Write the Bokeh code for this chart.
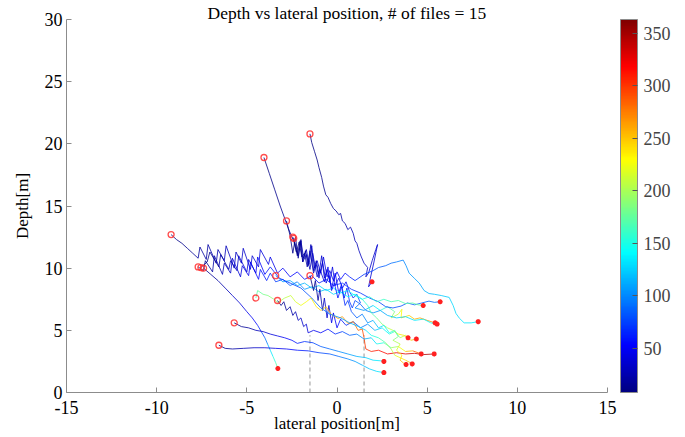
import numpy as np
from bokeh.plotting import figure
from bokeh.models import ColumnDataSource, LinearColorMapper, ColorBar, FixedTicker, Range1d
from bokeh.transform import transform
from bokeh.embed import file_html
from bokeh.resources import INLINE

TITLE = "Depth vs lateral position, # of files = 15"
X_LABEL = "lateral position[m]"
Y_LABEL = "Depth[m]"
X_TICKS = [-15, -10, -5, 0, 5, 10, 15]
Y_TICKS = [0, 5, 10, 15, 20, 25, 30]
CB_TICKS = [50, 100, 150, 200, 250, 300, 350]
T_MIN, T_MAX = 8, 363
DASH_X = [-1.5, 1.5]
DASH_TOP = [4.6, 4.6]

A_X = [-1.5, -1.4, -1.25, -1.1, -1.0, -0.85, -0.75, -0.62, -0.5, -0.35, -0.2, -0.05, 0.1, 0.2, 0.3, 0.45, 0.6, 0.75, 0.9, 1.0, 1.1, 1.22, 1.35, 1.5, 1.7, 1.6, 1.75, 1.95, 2.15, 2.25, 2.05, 1.85, 1.75, 1.94]
A_Y = [20.8, 20.1, 19.4, 18.7, 18.1, 17.3, 16.6, 15.9, 15.7, 15.2, 14.8, 14.6, 14.3, 14.4, 13.8, 13.6, 13.1, 13.3, 12.8, 12.2, 12.0, 11.4, 10.9, 10.4, 10.05, 9.3, 9.6, 10.6, 11.5, 11.9, 10.5, 9.2, 8.5, 8.9]
A_T = [8, 9, 10, 11, 12, 13, 14, 15, 16, 17, 18, 19, 20, 21, 22, 23, 24, 25, 26, 27, 28, 29, 30, 31, 32, 33, 34, 35, 36, 37, 38, 39, 40, 41]

B_X = [-4.05, -3.75, -3.45, -3.15, -2.9, -2.7, -2.5, -2.3, -2.15, -2.0, -1.85, -1.7, -1.55, -1.4, -1.25, -1.1, -0.9, -0.75, -0.55, -0.4, -0.2, 0.0, 0.2, 0.45, 0.7, 1.0, 1.5, 2.0, 2.3, 2.7, 3.0, 3.3, 3.67, 3.83, 4.0, 4.28, 4.56, 4.83, 5.1, 5.4, 5.78, 6.22, 6.44, 6.6, 6.8, 7.05, 7.44, 7.83]
B_Y = [18.9, 17.6, 16.3, 15.0, 14.0, 13.2, 12.5, 11.9, 11.0, 12.2, 10.8, 11.5, 10.3, 11.8, 10.0, 10.6, 9.6, 10.9, 9.3, 9.8, 9.0, 9.7, 9.1, 9.6, 9.3, 9.0, 9.5, 9.8, 10.05, 10.2, 10.4, 10.5, 10.65, 10.2, 9.6, 9.2, 8.8, 8.2, 7.96, 7.9, 7.8, 7.65, 7.0, 6.35, 5.95, 5.6, 5.6, 5.7]
B_T = [8, 10, 12, 14, 16, 18, 20, 22, 24, 26, 28, 30, 32, 34, 36, 38, 40, 42, 44, 46, 48, 50, 53, 56, 60, 65, 72, 78, 82, 86, 90, 94, 98, 101, 104, 107, 110, 113, 116, 119, 122, 125, 127, 129, 131, 133, 135, 137]

C_X = [-2.8, -2.6, -2.45, -2.3, -2.15, -2.0, -1.9, -1.75, -1.6, -1.45, -1.3, -1.15, -1.0, -0.85, -0.7, -0.55, -0.4, -0.25, -0.1, 0.1, 0.3, 0.5, 0.7, 0.9, 1.1, 1.3, 1.0, 1.5, 2.0, 2.4, 2.8, 3.2, 3.0, 3.4, 3.6, 3.55, 4.0, 4.3, 4.6, 5.0, 5.44]
C_Y = [13.8, 12.6, 11.2, 12.5, 10.8, 12.3, 10.5, 11.4, 10.2, 11.9, 9.8, 10.6, 9.5, 11.0, 9.2, 9.9, 8.9, 10.1, 8.6, 9.2, 8.4, 8.9, 8.1, 7.6, 7.9, 7.2, 6.8, 6.6, 7.0, 6.6, 6.9, 6.5, 6.0, 6.3, 6.7, 6.0, 6.2, 5.9, 6.0, 5.8, 5.6]
C_T = [8, 10, 12, 14, 16, 18, 20, 22, 24, 26, 28, 30, 32, 34, 36, 38, 40, 42, 44, 47, 50, 54, 58, 64, 72, 82, 95, 110, 128, 146, 164, 182, 198, 212, 224, 236, 246, 254, 262, 268, 274]

D_X = [-2.4, -2.25, -2.1, -1.95, -1.8, -1.65, -1.5, -1.3, -1.15, -1.0, -0.8, -0.6, -0.45, -0.3, -0.1, 0.1, 0.25, 0.4, 0.55, 0.7, 0.85, 1.0, 1.3, 1.6, 2.0, 2.4, 2.8, 3.3, 3.8, 4.3, 4.8, 5.2, 5.55]
D_Y = [12.4, 11.3, 12.1, 10.9, 11.2, 10.1, 11.4, 9.6, 10.3, 9.2, 10.5, 8.8, 9.4, 8.4, 9.6, 8.0, 8.7, 7.6, 8.4, 7.3, 6.8, 7.4, 7.1, 6.6, 6.4, 6.6, 6.2, 6.0, 6.1, 5.8, 5.9, 5.6, 5.5]
D_T = [8, 11, 14, 17, 20, 23, 26, 29, 32, 35, 38, 41, 44, 47, 50, 53, 56, 60, 64, 68, 72, 78, 85, 92, 100, 108, 115, 122, 128, 133, 137, 140, 143]

E_X = [-9.2, -8.9, -8.6, -8.3, -8.0, -7.7, -7.6, -7.25, -7.15, -6.7, -6.6, -6.25, -6.15, -5.7, -5.6, -5.3, -5.2, -4.8, -4.7, -4.35, -4.25, -3.8, -3.7, -3.3, -3.0, -2.6, -2.2, -1.8, -1.4, -1.0, -0.6, -0.2, 0.3, 0.8, 1.3, 1.8, 2.3, 2.7, 3.1, 3.55, 3.9, 4.3, 4.7, 5.1, 5.4, 5.72]
E_Y = [12.7, 12.3, 12.0, 11.6, 11.2, 10.8, 11.7, 10.7, 11.9, 10.4, 11.5, 10.6, 11.8, 10.0, 11.3, 10.4, 11.6, 9.9, 11.0, 10.1, 11.5, 10.3, 10.9, 9.6, 10.0, 9.3, 9.7, 9.1, 9.4, 8.8, 9.1, 8.6, 8.8, 8.3, 8.0, 7.6, 7.3, 6.9, 6.8, 6.95, 7.2, 7.05, 7.2, 7.35, 7.25, 7.3]
E_T = [8, 10, 12, 14, 16, 18, 19, 21, 22, 24, 25, 27, 28, 30, 31, 33, 34, 36, 37, 39, 40, 42, 43, 46, 49, 52, 54, 56, 58, 60, 62, 64, 66, 68, 70, 72, 74, 76, 78, 80, 82, 84, 86, 88, 90, 92]

F_X = [-7.7, -7.4, -7.3, -6.9, -6.8, -6.35, -6.25, -5.9, -5.8, -5.35, -5.25, -4.9, -4.8, -4.35, -4.25, -3.9, -3.7, -3.4, -3.0, -2.6, -2.2, -1.8, -1.4, -1.0, -0.6, -0.2, 0.2, 0.6, 1.0, 1.4, 1.8, 2.2, 2.6, 3.0, 3.4, 3.8, 4.2, 4.5, 4.78]
F_Y = [10.1, 9.8, 10.6, 9.7, 11.0, 9.5, 10.4, 9.6, 10.8, 9.3, 10.2, 9.4, 10.5, 9.1, 9.9, 9.0, 9.6, 8.9, 9.1, 8.6, 8.9, 8.3, 8.5, 8.1, 8.3, 7.9, 8.1, 7.7, 7.9, 7.5, 7.7, 7.3, 7.5, 7.3, 7.4, 7.15, 7.2, 7.05, 7.0]
F_T = [8, 12, 15, 19, 22, 26, 29, 33, 36, 40, 43, 47, 50, 54, 57, 62, 66, 72, 80, 88, 96, 104, 110, 116, 122, 128, 133, 138, 143, 148, 153, 158, 162, 166, 169, 172, 174, 176, 178]

G_X = [-7.4, -7.0, -6.6, -6.2, -5.8, -5.4, -5.0, -4.7, -4.4, -4.2, -4.0, -3.85, -3.7, -3.55, -3.4, -3.28]
G_Y = [10.0, 9.5, 9.0, 8.4, 7.8, 7.2, 6.5, 6.0, 5.4, 4.9, 4.4, 3.9, 3.4, 2.9, 2.4, 1.93]
G_T = [8, 14, 20, 26, 32, 38, 44, 50, 58, 70, 86, 104, 124, 144, 164, 182]

H_X = [-3.4, -3.0, -2.6, -2.2, -1.8, -1.4, -1.0, -0.6, -0.2, 0.2, 0.6, 1.0, 1.4, 1.7, 1.9, 2.2, 2.5, 2.8, 3.1, 3.4, 3.7, 3.94]
H_Y = [9.4, 8.9, 9.0, 8.6, 8.8, 8.4, 8.6, 8.2, 8.4, 8.0, 8.2, 7.8, 7.5, 7.0, 6.4, 6.0, 5.5, 5.2, 5.0, 4.7, 4.6, 4.4]
H_T = [100, 104, 108, 112, 116, 120, 124, 128, 132, 136, 140, 146, 152, 158, 166, 176, 188, 200, 214, 230, 246, 258]

I_X = [-1.5, -1.3, -1.2, -1.05, -0.95, -0.8, -0.7, -0.55, -0.45, -0.3, -0.2, 0.0, 0.2, 0.5, 0.9, 1.3, 1.7, 2.1, 2.5, 2.9, 3.2, 3.5, 3.8, 4.1, 4.4]
I_Y = [9.4, 8.2, 9.0, 7.4, 8.3, 6.6, 7.6, 6.0, 7.0, 5.6, 6.4, 5.2, 5.9, 5.4, 5.7, 5.2, 5.5, 5.0, 5.2, 4.7, 4.9, 4.4, 4.6, 4.2, 4.3]
I_T = [8, 12, 16, 20, 24, 28, 32, 36, 40, 44, 48, 52, 58, 66, 76, 88, 100, 115, 130, 150, 170, 195, 220, 245, 262]

J_X = [-4.5, -4.4, -4.1, -3.83, -3.5, -3.28, -2.9, -2.56, -2.3, -2.0, -1.7, -1.44, -1.15, -0.89, -0.6, -0.33, 0.06, 0.3, 0.61, 0.9, 1.17, 1.4, 1.5, 1.55, 1.6, 1.9, 2.3, 2.8, 3.3, 3.8, 4.3, 4.8, 5.39]
J_Y = [7.6, 8.2, 7.9, 7.8, 7.5, 7.24, 7.6, 7.8, 7.3, 7.0, 7.3, 7.6, 6.9, 6.6, 6.9, 6.3, 5.95, 6.1, 5.55, 5.7, 5.0, 5.1, 4.4, 3.9, 3.5, 3.3, 3.4, 3.1, 3.2, 3.1, 3.15, 3.05, 3.1]
J_T = [170, 174, 180, 186, 192, 198, 204, 210, 216, 222, 228, 232, 238, 244, 250, 256, 262, 266, 270, 276, 282, 288, 294, 298, 302, 306, 312, 318, 324, 330, 336, 342, 348]

K_X = [-3.3, -3.1, -2.95, -2.8, -2.6, -2.45, -2.3, -2.15, -2.0, -1.85, -1.7, -1.6, -1.3, -0.9, -0.5, -0.1, 0.3, 0.7, 1.1, 1.5, 1.9, 2.2, 2.6, 3.0, 3.4, 3.8, 4.2, 4.67]
K_Y = [7.4, 7.0, 7.3, 6.6, 6.9, 6.2, 6.5, 5.8, 6.0, 5.3, 5.5, 4.8, 5.0, 4.8, 5.1, 4.7, 4.9, 4.6, 4.7, 4.3, 4.4, 3.9, 4.0, 3.6, 3.7, 3.3, 3.35, 3.1]
K_T = [8, 11, 14, 17, 20, 23, 26, 29, 32, 35, 38, 41, 46, 52, 58, 66, 74, 84, 95, 108, 122, 140, 160, 185, 210, 240, 270, 300]

L_X = [-5.7, -5.3, -4.9, -4.5, -4.1, -3.7, -3.3, -2.9, -2.5, -2.2, -1.8, -1.33, -0.9, -0.4, 0.1, 0.6, 1.1, 1.6, 2.0, 2.4, 2.6]
L_Y = [5.6, 5.3, 5.2, 5.0, 4.9, 4.7, 4.55, 4.4, 4.2, 3.95, 4.1, 4.0, 3.7, 3.5, 3.3, 3.1, 2.9, 2.8, 2.6, 2.55, 2.5]
L_T = [8, 14, 20, 26, 32, 38, 44, 50, 56, 62, 68, 74, 82, 90, 98, 106, 114, 122, 130, 136, 140]

M_X = [-6.55, -6.2, -5.8, -5.2, -4.6, -4.0, -3.4, -2.8, -2.2, -1.6, -1.0, -0.4, 0.1, 0.6, 1.0, 1.4, 1.8, 2.2, 2.6]
M_Y = [3.8, 3.55, 3.5, 3.55, 3.6, 3.6, 3.55, 3.5, 3.4, 3.35, 3.2, 3.1, 2.9, 2.7, 2.5, 2.2, 1.9, 1.7, 1.6]
M_T = [8, 14, 20, 26, 32, 38, 44, 50, 58, 66, 74, 82, 90, 98, 106, 114, 122, 130, 136]

N_X = [-7.55, -7.2, -7.05, -6.55, -6.45, -6.0, -5.9, -5.55, -5.45, -5.0, -4.9, -4.5, -4.4, -4.0, -3.7, -3.2, -2.6, -2.0, -1.4, -0.9, -0.4, 0.2, 0.7, 1.2, 1.6, 1.9, 2.3, 2.7, 3.0, 3.2, 3.5, 3.8, 4.0, 4.17]
N_Y = [10.05, 10.5, 11.3, 10.1, 11.1, 9.9, 10.6, 9.8, 11.0, 9.7, 10.7, 9.6, 10.9, 9.5, 10.1, 9.2, 8.8, 8.4, 7.6, 6.8, 6.3, 6.0, 5.6, 5.3, 5.0, 4.6, 4.4, 4.0, 3.5, 3.0, 2.8, 2.6, 2.45, 2.3]
N_T = [8, 11, 14, 18, 21, 25, 28, 32, 35, 39, 42, 46, 49, 54, 60, 66, 72, 78, 84, 90, 96, 104, 112, 120, 130, 145, 160, 180, 200, 215, 230, 245, 255, 262]

O_X = [-2.45, -2.2, -2.05, -1.9, -1.7, -1.5, -1.35, -1.1, -0.95, -0.7, -0.5, -0.3, -0.15, 0.05, 0.25, 0.45, 0.6, 0.8, 1.1, 1.4, 1.7, 2.0, 2.3, 2.6, 2.9, 3.2, 3.4, 3.1, 3.5, 3.3, 3.6, 3.5, 3.7, 3.83]
O_Y = [12.5, 11.0, 12.2, 10.5, 11.1, 9.9, 11.2, 9.3, 9.9, 8.9, 10.1, 8.2, 8.8, 7.6, 8.5, 7.0, 7.4, 6.5, 6.0, 6.3, 5.6, 5.8, 5.2, 5.4, 4.8, 5.0, 4.5, 4.2, 3.9, 3.4, 3.0, 2.6, 2.35, 2.25]
O_T = [8, 12, 16, 20, 24, 28, 32, 36, 40, 44, 48, 52, 56, 60, 64, 68, 72, 78, 86, 94, 104, 114, 126, 138, 152, 166, 180, 194, 208, 222, 236, 248, 258, 265]

TRACKS = [(A_X, A_Y, A_T), (B_X, B_Y, B_T), (C_X, C_Y, C_T), (D_X, D_Y, D_T),
          (E_X, E_Y, E_T), (F_X, F_Y, F_T), (G_X, G_Y, G_T), (H_X, H_Y, H_T),
          (I_X, I_Y, I_T), (J_X, J_Y, J_T), (K_X, K_Y, K_T), (L_X, L_Y, L_T),
          (M_X, M_Y, M_T), (N_X, N_Y, N_T), (O_X, O_Y, O_T)]


def jet(n=256):
    cols = []
    for i in range(n):
        v = i / (n - 1)
        r = np.clip(1.5 - abs(4 * v - 3), 0, 1)
        g = np.clip(1.5 - abs(4 * v - 2), 0, 1)
        b = np.clip(1.5 - abs(4 * v - 1), 0, 1)
        cols.append("#%02x%02x%02x" % (int(r * 255 + 0.5), int(g * 255 + 0.5), int(b * 255 + 0.5)))
    return cols


JET = jet()
mapper = LinearColorMapper(palette=JET, low=T_MIN, high=T_MAX)

SERIF = "Liberation Serif"

p = figure(width=685, height=437, x_range=Range1d(-15, 15), y_range=Range1d(0, 30),
           output_backend="svg", toolbar_location=None,
           min_border_left=66, min_border_right=78, min_border_top=19, min_border_bottom=45)
p.title.text = TITLE
p.title.align = "left"
p.title.offset = 141
p.title.standoff = -6
p.title.text_font = SERIF
p.title.text_font_size = "17.5px"
p.title.text_font_style = "normal"
p.title.text_color = "black"
p.outline_line_color = None
p.xgrid.visible = False
p.ygrid.visible = False
p.background_fill_color = "white"
p.border_fill_color = "white"

for ax in (p.xaxis[0], p.yaxis[0]):
    ax.axis_line_color = "#8c8c8c"
    ax.major_tick_line_color = "#8c8c8c"
    ax.major_tick_in = 5
    ax.major_tick_out = 0
    ax.minor_tick_line_color = None
    ax.major_label_text_font = SERIF
    ax.major_label_text_font_size = "18px"
    ax.major_label_text_color = "black"
    ax.axis_label_text_font = SERIF
    ax.axis_label_text_font_size = "17px"
    ax.axis_label_text_font_style = "normal"
    ax.axis_label_text_color = "black"

p.xaxis.ticker = FixedTicker(ticks=X_TICKS)
p.yaxis.ticker = FixedTicker(ticks=Y_TICKS)
p.xaxis.major_label_overrides = {v: str(v) for v in X_TICKS}
p.yaxis.major_label_overrides = {v: str(v) for v in Y_TICKS}
p.xaxis.axis_label = X_LABEL
p.yaxis.axis_label = Y_LABEL
p.xaxis.major_label_standoff = 8
p.yaxis.major_label_standoff = 4
p.xaxis.axis_label_standoff = -3
p.yaxis.axis_label_standoff = 10

# dashed guide lines
p.segment(x0=DASH_X, y0=[0, 0], x1=DASH_X, y1=DASH_TOP, line_color="#a8a8a8",
          line_dash="4 3", line_width=1.2)

x0, y0, x1, y1, tc = [], [], [], [], []
for xs, ys, ts in TRACKS:
    for i in range(len(xs) - 1):
        x0.append(xs[i]); y0.append(ys[i])
        x1.append(xs[i + 1]); y1.append(ys[i + 1])
        tc.append((ts[i] + ts[i + 1]) / 2)
seg_src = ColumnDataSource(dict(x0=x0, y0=y0, x1=x1, y1=y1, tc=tc))
p.segment("x0", "y0", "x1", "y1", source=seg_src, line_color=transform("tc", mapper),
          line_width=1.0, line_alpha=0.8)

sx = [t[0][0] for t in TRACKS]
sy = [t[1][0] for t in TRACKS]
ex = [t[0][-1] for t in TRACKS]
ey = [t[1][-1] for t in TRACKS]
p.scatter(sx, sy, marker="circle", size=6, fill_color=None, line_color="#ff3030", line_width=1.3, line_alpha=0.85)
p.scatter(ex, ey, marker="asterisk", size=5, line_color="#ff2020", line_width=1.6)

cb = ColorBar(color_mapper=mapper, width=17, height=373, ticker=FixedTicker(ticks=CB_TICKS),
              major_label_text_font=SERIF, major_label_text_font_size="18px",
              label_standoff=6, padding=0, margin=0, location=(13, 0),
              bar_line_color="#8c8c8c", border_line_color=None, background_fill_color=None,
              major_tick_in=5, major_tick_out=0, major_tick_line_color="#555555",
              minor_tick_line_color=None)
p.add_layout(cb, "right")

open("out.html", "w").write(file_html(p, INLINE))
